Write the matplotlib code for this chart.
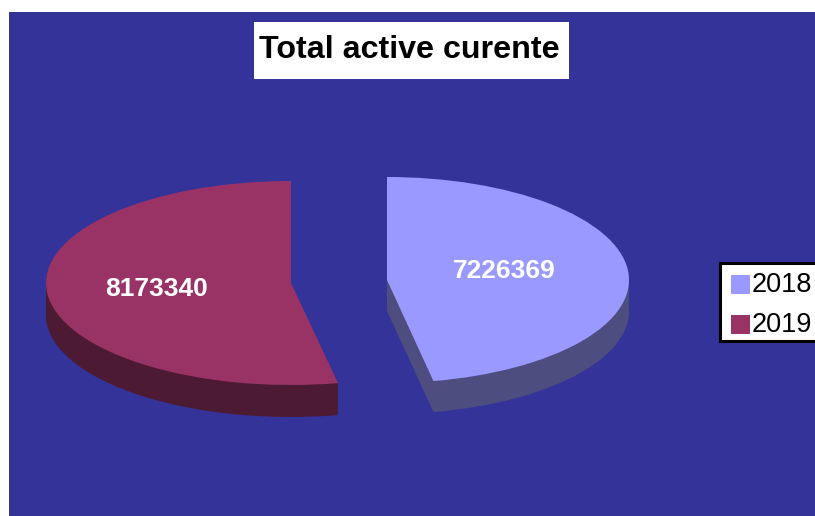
import matplotlib
matplotlib.use("Agg")
import matplotlib.pyplot as plt
from matplotlib.patches import Rectangle, Wedge
from matplotlib.transforms import Affine2D

years = ["2018", "2019"]
values = [7226369, 8173340]
top_colors = ["#9999FF", "#993366"]
side_colors = ["#4D4D80", "#4D1A33"]

plt.rcParams["font.family"] = ["Liberation Sans", "DejaVu Sans"]

fig = plt.figure(figsize=(8.15, 5.16), dpi=100, facecolor="white")
ax = fig.add_axes([0, 0, 1, 1])
ax.set_xlim(0, 815)
ax.set_ylim(516, 0)
ax.axis("off")

ax.add_patch(Rectangle((9, 12), 806, 504, facecolor="#333399", edgecolor="none"))


def slice_3d(cx, cy, rx, ry, depth, theta1, theta2, top, side):
    # stack of shifted wedges gives the thick side of the pie
    for d in range(depth, 0, -1):
        tr = Affine2D().scale(rx, ry).translate(cx, cy + d) + ax.transData
        ax.add_patch(Wedge((0, 0), 1, theta1, theta2, facecolor=side, edgecolor="none", transform=tr))
    tr = Affine2D().scale(rx, ry).translate(cx, cy) + ax.transData
    ax.add_patch(Wedge((0, 0), 1, theta1, theta2, facecolor=top, edgecolor="none", transform=tr))


# first slice starts at 12 o'clock, the y axis is inverted so angles run clockwise
split = -90 + 360 * values[0] / sum(values)
slice_3d(387, 280, 242, 103, 31, -90, split, top_colors[0], side_colors[0])
slice_3d(291, 283, 245, 102, 32, split, 270, top_colors[1], side_colors[1])

ax.text(504, 271, str(values[0]), color="white", fontsize=19, fontweight="bold", ha="center", va="center")
ax.text(156, 289, str(values[1]), color="white", fontsize=19, fontweight="bold", ha="center", va="center")

# title box
ax.add_patch(Rectangle((254, 22), 315, 57, facecolor="white", edgecolor="none"))
ax.text(409.5, 50, "Total active curente", color="black", fontsize=23.2, fontweight="bold", ha="center", va="center")

# legend box, runs off the right edge like the original
ax.add_patch(Rectangle((720, 263), 110, 78, facecolor="white", edgecolor="black", linewidth=2.2))
for i, year in enumerate(years):
    y = 275 + 40 * i
    ax.add_patch(Rectangle((731, y), 19, 19, facecolor=top_colors[i], edgecolor="none"))
    ax.text(752, y + 10, year, color="black", fontsize=19.5, ha="left", va="center")

fig.savefig("out.png", dpi=100)
